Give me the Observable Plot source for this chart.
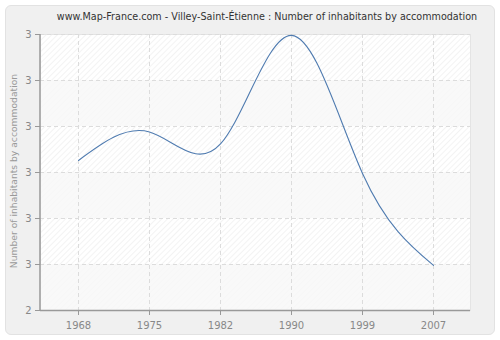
<!DOCTYPE html>
<html>
<head>
<meta charset="utf-8">
<script src="https://cdn.jsdelivr.net/npm/d3@7"></script>
<script src="https://cdn.jsdelivr.net/npm/@observablehq/plot@0.6"></script>
<style>
  html, body { margin: 0; padding: 0; background: #ffffff; }
  #wrap { position: relative; width: 500px; height: 340px; }
  #panel { position: absolute; left: 5px; top: 5px; width: 490px; height: 330px;
    background: #f0f0f0; border: 1px solid #e2e2e2; border-radius: 6px; box-sizing: border-box; }
  #title { position: absolute; left: 0; top: 11px; width: 534px; text-align: center;
    font-family: "DejaVu Sans", Verdana, sans-serif; font-size: 9.6px; color: #333; white-space: nowrap; }
  #ylabel { position: absolute; left: 13px; top: 171px; width: 0; height: 0; }
  #ylabel span { position: absolute; left: 0; top: 0; transform: translate(-50%, -50%) rotate(-90deg);
    white-space: nowrap; font-family: "DejaVu Sans", Verdana, sans-serif; font-size: 9.2px; color: #999; }
  #chart { position: absolute; left: 0; top: 0; }
</style>
</head>
<body>
<div id="wrap">
  <div id="panel"></div>
  <div id="chart"></div>
  <div id="title"></div>
  <div id="ylabel"><span></span></div>
</div>
<script>
const titleText = "www.Map-France.com - Villey-Saint-Étienne : Number of inhabitants by accommodation";
const years = ["1968", "1975", "1982", "1990", "1999", "2007"];
const values = [2.726, 2.788, 2.762, 2.998, 2.698, 2.498];
const yTicks = [2.4, 2.5, 2.6, 2.7, 2.8, 2.9, 3.0];
const yTickLabels = ["2", "3", "3", "3", "3", "3", "3"];
const yLabel = "Number of inhabitants by accommodation";

document.getElementById("title").textContent = titleText;
document.querySelector("#ylabel span").textContent = yLabel;

const data = years.map((y, i) => ({year: y, value: values[i]}));
const bands = [];
for (let i = 0; i < yTicks.length - 1; i += 2) bands.push({y1: yTicks[i], y2: yTicks[i + 1]});

const defs = () => {
  const g = d3.create("svg:defs");
  const p = g.append("pattern").attr("id", "hatch").attr("patternUnits", "userSpaceOnUse")
    .attr("width", 4).attr("height", 4).attr("patternTransform", "rotate(45)");
  p.append("rect").attr("width", 4).attr("height", 4).attr("fill", "#ffffff");
  p.append("line").attr("x1", 0).attr("y1", 0).attr("x2", 0).attr("y2", 4)
    .attr("stroke", "#ececec").attr("stroke-width", 1.2);
  return g.node();
};

const leftAxisLine = (index, scales, values, dims) => {
  const g = d3.create("svg:line")
    .attr("x1", dims.marginLeft).attr("x2", dims.marginLeft)
    .attr("y1", dims.marginTop).attr("y2", dims.height - dims.marginBottom)
    .attr("stroke", "#999").attr("stroke-width", 1.5);
  return g.node();
};

const chart = Plot.plot({
  width: 500,
  height: 340,
  marginLeft: 40,
  marginRight: 30,
  marginTop: 34,
  marginBottom: 30,
  style: {background: "transparent", fontFamily: "DejaVu Sans, Verdana, sans-serif", fontSize: "10px"},
  x: {type: "point", domain: years, padding: 0.5, label: null},
  y: {domain: [2.4, 3.0], label: null},
  marks: [
    defs,
    Plot.frame({fill: "url(#hatch)", stroke: "#e4e4e4"}),
    Plot.rect(bands, {y1: "y1", y2: "y2", fill: "#f8f8f8", fillOpacity: 0.8}),
    Plot.gridY(yTicks.slice(1), {stroke: "#dcdcdc", strokeOpacity: 1, strokeDasharray: "4,3"}),
    Plot.gridX(years, {stroke: "#dcdcdc", strokeOpacity: 1, strokeDasharray: "4,3"}),
    Plot.line(data, {x: "year", y: "value", curve: "natural", stroke: "#4f7bb0", strokeWidth: 1.1}),
    Plot.axisY({ticks: yTicks, tickFormat: (d, i) => yTickLabels[i], tickSize: 5, tickPadding: 4,
      stroke: "#999", fill: "#888", label: null}),
    leftAxisLine,
    Plot.axisX({ticks: years, tickSize: 5, tickPadding: 6, stroke: "#999", fill: "#888", label: null}),
    Plot.ruleY([2.4], {stroke: "#999", strokeWidth: 1.5})
  ]
});
document.getElementById("chart").appendChild(chart);
</script>
</body>
</html>
